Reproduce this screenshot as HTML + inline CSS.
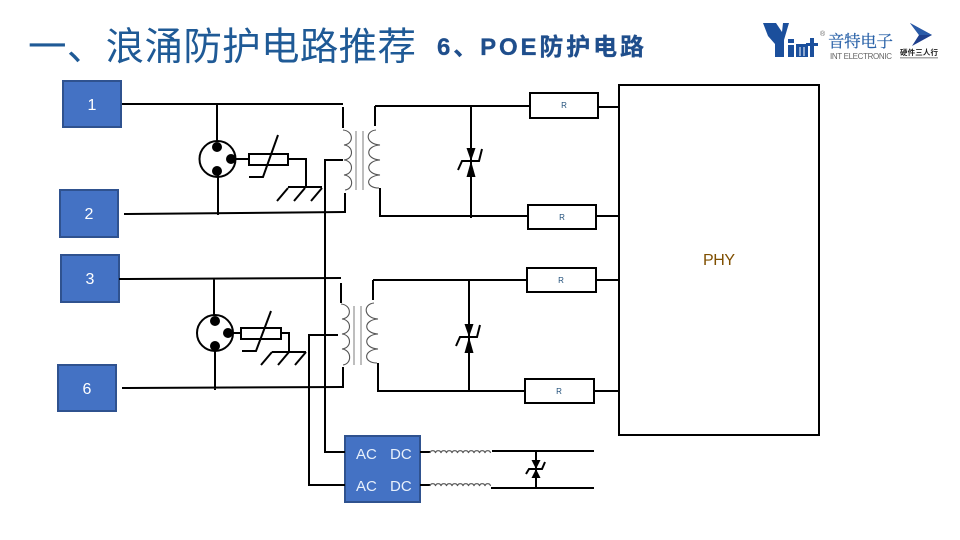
<!DOCTYPE html>
<html lang="zh">
<head>
<meta charset="utf-8">
<title>POE防护电路</title>
<style>
html,body{margin:0;padding:0;background:#fff;width:960px;height:540px;overflow:hidden}
svg{display:block}
text{font-family:"Liberation Sans","Noto Sans CJK SC",sans-serif}
</style>
</head>
<body>
<svg width="960" height="540" viewBox="0 0 960 540" xmlns="http://www.w3.org/2000/svg">
<rect width="960" height="540" fill="#fff"/>

<!-- titles -->
<text x="28" y="60" font-size="38.500" fill="#1F5A96" textLength="388" lengthAdjust="spacing">一、浪涌防护电路推荐</text>
<text x="437" y="55" font-size="24" font-weight="700" fill="#1F4E8C" stroke="#1F4E8C" stroke-width="0.300" textLength="207" lengthAdjust="spacing">6、POE防护电路</text>

<!-- logo -->
<g fill="#1B4F9C">
<polygon points="763,23 776,23 782,32 783,23 789,23 784,40 784,57 775,57 775,44 768,36"/>
<rect x="788" y="45" width="6" height="12"/><rect x="788" y="39" width="6" height="4"/>
<rect x="796" y="44" width="12" height="13"/>
<rect x="810" y="38" width="4" height="19"/><rect x="806" y="43" width="12" height="3"/>
</g>
<path d="M800,47V56M804,47V56" stroke="#fff" stroke-width="1"/>
<text x="820" y="36" font-size="7" fill="#666">®</text>
<text x="828" y="47" font-size="16.500" fill="#2A62A8" stroke="#2A62A8" stroke-width="0.200" style="font-family:'Liberation Serif','Noto Serif CJK SC',serif" textLength="65">音特电子</text>
<text x="830" y="59" font-size="8" fill="#666" textLength="62">INT ELECTRONIC</text>
<polygon points="910,23 932,35 912,46 919,35" fill="#1F3F8C"/>
<polygon points="910,23 932,35 919,35" fill="#2A5BA8"/>
<text x="900" y="55" font-size="7.500" font-weight="700" fill="#222" textLength="38">硬件三人行</text>
<rect x="900" y="57" width="38" height="1.500" fill="#aaa"/>

<!-- blue boxes -->
<g fill="#4472C4" stroke="#2F528F" stroke-width="2">
<rect x="63" y="81" width="58" height="46"/>
<rect x="60" y="190" width="58" height="47"/>
<rect x="61" y="255" width="58" height="47"/>
<rect x="58" y="365" width="58" height="46"/>
<rect x="345" y="436" width="75" height="66"/>
</g>
<g fill="#fff" font-size="16" text-anchor="middle">
<text x="92" y="110">1</text>
<text x="89" y="219">2</text>
<text x="90" y="284">3</text>
<text x="87" y="394">6</text>
</g>
<g fill="#E8F0FB" font-size="15">
<text x="356" y="459">AC</text><text x="390" y="459">DC</text>
<text x="356" y="491">AC</text><text x="390" y="491">DC</text>
</g>

<!-- wires -->
<g fill="none" stroke="#000" stroke-width="2">
<!-- upper pair -->
<path d="M122,104H343M124,214L345,212M217,104V142M218,171V215"/>
<circle cx="217.500" cy="159" r="18"/>
<path d="M231,159H249M288,159H306V187M288,187H322M288,188L277,201M305,188L294,201M322,188L311,201"/>
<rect x="249" y="154" width="39" height="11"/>
<path d="M278,135L263,177H249"/>
<path d="M343,107V128M345,193V213M375,106V126M375,106H530M380,188V216H528"/>
<path d="M343,160H325V452H345M338,335H309V485H345"/>
<!-- lower pair -->
<path d="M119,279L341,278M122,388L342,387M214,279V316M215,346V390"/>
<circle cx="215" cy="333" r="18"/>
<path d="M228,333H241M281,333H289V351M272,352H306M272,352L261,365M289,352L278,365M306,352L295,365"/>
<rect x="241" y="328" width="40" height="11"/>
<path d="M271,311L256,351H242"/>
<path d="M341,283V303M343,367V388M373,280V300M373,280H527M378,363V391H525"/>
<!-- tvs lines -->
<path d="M471,106V218M469,281V391"/>
<path d="M458,170L462,161H479L482,149M456,346L460,337H477L480,325"/>
<!-- R boxes -->
<rect x="530" y="93" width="68" height="25"/>
<rect x="528" y="205" width="68" height="24"/>
<rect x="527" y="268" width="69" height="24"/>
<rect x="525" y="379" width="69" height="24"/>
<path d="M598,107H619M596,216H619M596,280H619M594,391H619"/>
<rect x="619" y="85" width="200" height="350"/>
<!-- DC side -->
<path d="M420,452H430M420,485H430M492,451H594M491,488H594M536,451V488"/>
<path d="M526,474L529,469H542L545,462"/>
</g>

<!-- dots and tvs triangles -->
<g fill="#000">
<circle cx="217" cy="147" r="5"/><circle cx="231" cy="159" r="5"/><circle cx="217" cy="171" r="5"/>
<circle cx="215" cy="321" r="5"/><circle cx="228" cy="333" r="5"/><circle cx="215" cy="346" r="5"/>
<polygon points="466.500,148 475.500,148 471,161"/><polygon points="471,161 466.500,177 475.500,177"/>
<polygon points="464.500,324 473.500,324 469,337"/><polygon points="469,337 464.500,353 473.500,353"/>
<polygon points="531.500,460 540.500,460 536,469"/><polygon points="536,469 531.500,478 540.500,478"/>
</g>

<!-- transformers -->
<g fill="none" stroke="#555" stroke-width="1.100">
<path d="M343,130C354,131 354,144 344,145C354,146 354,159 344,160C354,161 354,174 344,175C354,176 354,189 345,190"/>
<path d="M376,130C365,131 365,144 380,145C365,146 365,159 380,160C365,161 365,174 380,175C365,176 365,188 379,188"/>
<path d="M356,131V190M363,131V190" stroke="#888"/>
<path d="M341,304C352,305 352,318 342,319C352,320 352,333 342,334C352,335 352,348 342,349C352,350 352,364 343,365"/>
<path d="M374,303C363,304 363,318 378,319C363,320 363,333 378,334C363,335 363,348 378,349C363,350 363,363 377,363"/>
<path d="M354,306V365M361,306V365" stroke="#888"/>
<!-- inductors -->
<path d="M430,453a2.800,2.800 0 0 1 5.500,0a2.800,2.800 0 0 1 5.500,0a2.800,2.800 0 0 1 5.500,0a2.800,2.800 0 0 1 5.500,0a2.800,2.800 0 0 1 5.500,0a2.800,2.800 0 0 1 5.500,0a2.800,2.800 0 0 1 5.500,0a2.800,2.800 0 0 1 5.500,0a2.800,2.800 0 0 1 5.500,0a2.800,2.800 0 0 1 5.500,0a2.800,2.800 0 0 1 5.500,0"/>
<path d="M430,486a2.800,2.800 0 0 1 5.500,0a2.800,2.800 0 0 1 5.500,0a2.800,2.800 0 0 1 5.500,0a2.800,2.800 0 0 1 5.500,0a2.800,2.800 0 0 1 5.500,0a2.800,2.800 0 0 1 5.500,0a2.800,2.800 0 0 1 5.500,0a2.800,2.800 0 0 1 5.500,0a2.800,2.800 0 0 1 5.500,0a2.800,2.800 0 0 1 5.500,0a2.800,2.800 0 0 1 5.500,0"/>
</g>

<!-- R labels -->
<g fill="#1F4E79" font-size="8" text-anchor="middle">
<text x="564" y="108">R</text>
<text x="562" y="220">R</text>
<text x="561" y="283">R</text>
<text x="559" y="394">R</text>
</g>
<text x="719" y="265" font-size="16" fill="#7F4F00" text-anchor="middle" textLength="32">PHY</text>
</svg>
</body>
</html>
